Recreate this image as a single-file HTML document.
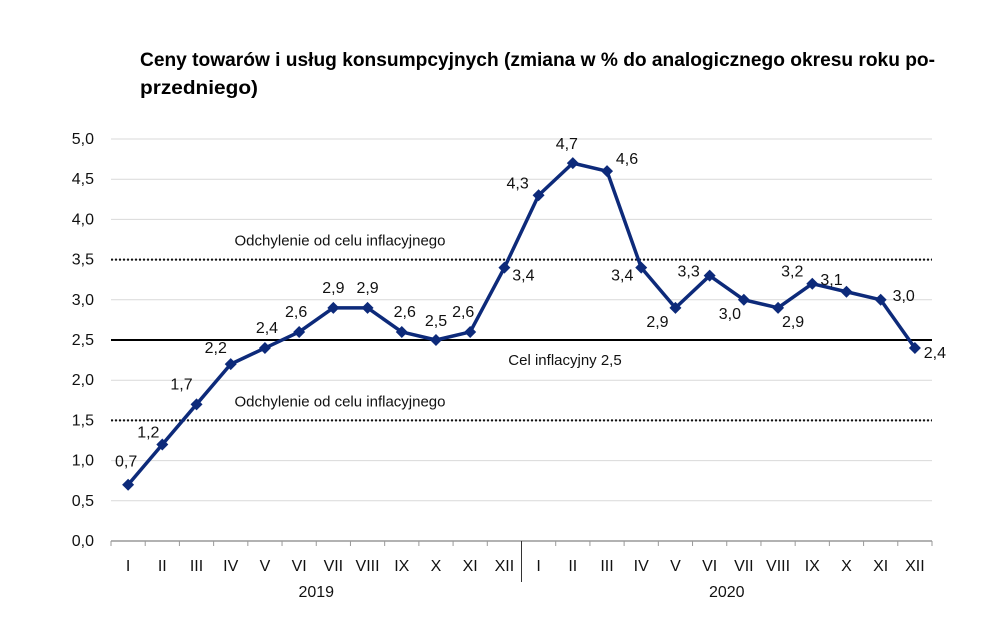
<!DOCTYPE html>
<html><head><meta charset="utf-8"><style>
body{margin:0;background:#fff;}
svg{display:block;font-family:"Liberation Sans",sans-serif;}
</style></head><body>
<svg id="chart" width="1000" height="626" viewBox="0 0 1000 626">
<text x="140" y="66" font-size="19" font-weight="bold" textLength="795" lengthAdjust="spacingAndGlyphs">Ceny towarów i usług konsumpcyjnych (zmiana w % do analogicznego okresu roku po-</text>
<text x="140" y="94" font-size="19" font-weight="bold" textLength="118" lengthAdjust="spacingAndGlyphs">przedniego)</text>
<g id="grid"></g>
<g id="refs"></g>
<g id="axes"></g>
<g id="series"></g>
</svg>
<script>
const categories=["I","II","III","IV","V","VI","VII","VIII","IX","X","XI","XII","I","II","III","IV","V","VI","VII","VIII","IX","X","XI","XII"];
const values=[0.7,1.2,1.7,2.2,2.4,2.6,2.9,2.9,2.6,2.5,2.6,3.4,4.3,4.7,4.6,3.4,2.9,3.3,3.0,2.9,3.2,3.1,3.0,2.4];
const valueLabels=["0,7","1,2","1,7","2,2","2,4","2,6","2,9","2,9","2,6","2,5","2,6","3,4","4,3","4,7","4,6","3,4","2,9","3,3","3,0","2,9","3,2","3,1","3,0","2,4"];
const yTicks=[0,0.5,1,1.5,2,2.5,3,3.5,4,4.5,5];
const yTickLabels=["0,0","0,5","1,0","1,5","2,0","2,5","3,0","3,5","4,0","4,5","5,0"];
const years=["2019","2020"];
const targetValue=2.5, upperBand=3.5, lowerBand=1.5;
const labelOffsets=[[-2,-18],[-14,-7],[-15,-15],[-15,-11],[2,-15],[-3,-15],[0,-15],[0,-15],[3,-15],[0,-14],[-7,-15],[19,13],[-21,-7],[-6,-14],[20,-7],[-19,13],[-18,19],[-21,1],[-14,19],[15,19],[-20,-7],[-15,-7],[23,1],[20,10]];
const NS="http://www.w3.org/2000/svg";
const X0=111,X1=932,Y0=541,Y1=139;
const bw=(X1-X0)/categories.length;
const xs=i=>X0+bw*(i+0.5);
const ys=v=>Y0-(v/5)*(Y0-Y1);
function mk(tag,attrs,parent,txt){const e=document.createElementNS(NS,tag);for(const k in attrs)e.setAttribute(k,attrs[k]);if(txt!==undefined)e.textContent=txt;document.getElementById(parent).appendChild(e);return e;}
yTicks.forEach((t,i)=>{
 if(t>0){const g=mk('line',{x1:X0,x2:X1,y1:ys(t),y2:ys(t),stroke:'#d9d9d9','stroke-width':1},'grid');
 
 }
 const l=mk('text',{x:94,y:ys(t)+5,'text-anchor':'end','font-size':16,fill:'#111'},'axes',yTickLabels[i]);
 
 
});
[upperBand,lowerBand].forEach(v=>{
 const l=mk('line',{x1:X0,x2:X1,y1:ys(v),y2:ys(v),stroke:'#111','stroke-width':2,'stroke-dasharray':'2 2'},'refs');
 
 
 const t=mk('text',{x:340,y:ys(v)-14,'text-anchor':'middle','font-size':15,fill:'#111'},'refs','Odchylenie od celu inflacyjnego');
 
 
});
{const l=mk('line',{x1:X0,x2:X1,y1:ys(targetValue),y2:ys(targetValue),stroke:'#000','stroke-width':2},'refs');


const t=mk('text',{x:565,y:ys(targetValue)+25,'text-anchor':'middle','font-size':15,fill:'#111'},'refs','Cel inflacyjny 2,5');

}
{const a=mk('line',{x1:X0,x2:X1,y1:Y0,y2:Y0,stroke:'#999','stroke-width':1.5},'axes');

}
for(let i=0;i<=categories.length;i++){
 const x=X0+bw*i;
 const sep=(i===12);
 const tk=mk('line',{x1:x,x2:x,y1:Y0,y2:sep?582:Y0+5,stroke:sep?'#333':'#999','stroke-width':1},'axes');
 
 
}
categories.forEach((c,i)=>{
 const t=mk('text',{x:xs(i),y:571,'text-anchor':'middle','font-size':16,fill:'#111'},'axes',c);
 
 
});
years.forEach((y,i)=>{
 const t=mk('text',{x:X0+bw*12*(i+0.5),y:597,'text-anchor':'middle','font-size':16,fill:'#111'},'axes',y);
 
 
});
const pts=values.map((v,i)=>xs(i)+','+ys(v)).join(' ');
{const p=mk('polyline',{points:pts,fill:'none',stroke:'#0d2a7a','stroke-width':3.5,'stroke-linejoin':'round'},'series');

}
values.forEach((v,i)=>{
 const x=xs(i),y=ys(v);
 const m=mk('polygon',{points:`${x},${y-6} ${x+6},${y} ${x},${y+6} ${x-6},${y}`,fill:'#0d2a7a'},'series');
 
 
 const t=mk('text',{x:x+labelOffsets[i][0],y:y+labelOffsets[i][1],'text-anchor':'middle','font-size':16,fill:'#111'},'series',valueLabels[i]);
 
 
});
</script>
</body></html>
